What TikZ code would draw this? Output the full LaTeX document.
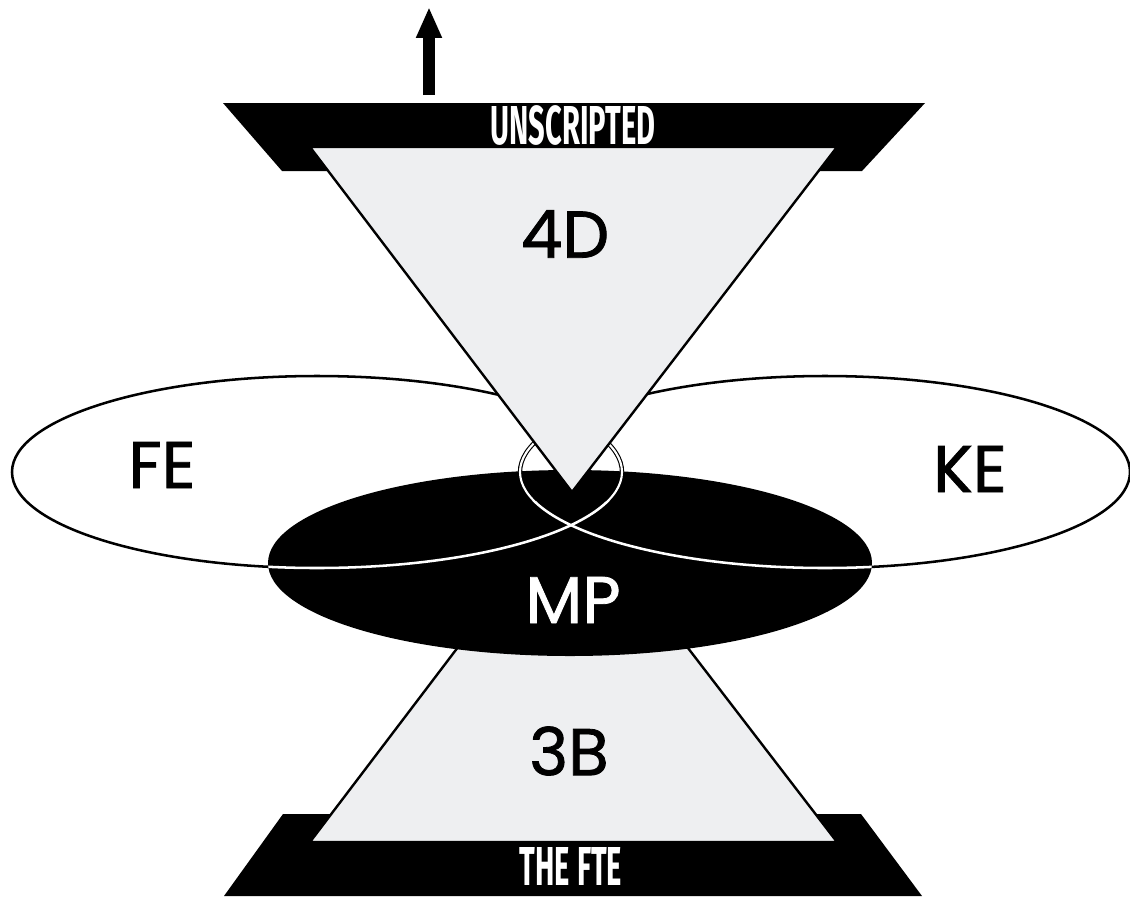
\documentclass[tikz,border=0pt]{standalone}
\usepackage{fontspec}
\usetikzlibrary{arrows.meta}
\newfontfamily\labelfont[FakeBold=1.2]{Poppins}
\newfontfamily\bandfont{Fira Sans}
\definecolor{trigray}{RGB}{238,239,241}
\begin{document}
\begin{tikzpicture}[x=.025cm, y=-.025cm, line join=miter]
	\tikzset{lbl/.style={font=\labelfont\fontsize{47}{47}\selectfont, inner sep=0pt},
		band/.style={font=\bandfont\bfseries\fontsize{39}{39}\selectfont, text=white, inner sep=0pt, xscale=.53},
		tri/.style={fill=trigray, draw=black, line width=1.7pt},
		rim/.style={line width=1.8pt}}
	\useasboundingbox (0,0) rectangle (1130,896);
	% black bands
	\fill (223,103) -- (925,103) -- (862,171) -- (282,171) -- cycle;
	\fill (283,814) -- (861,814) -- (922,896) -- (224,896) -- cycle;
	% lower triangle
	\draw[tri] (310,842) -- (837,842) -- (572,497) -- cycle;
	% side ellipses
	\foreach \c in {317,825}
		\draw[rim, fill=white] (\c,472) ellipse [x radius=305, y radius=96];
	\fill (570,563) ellipse [x radius=302, y radius=93];
	\begin{scope}
		\clip (570,563) ellipse [x radius=302, y radius=93];
		\foreach \c in {317,825}
			\draw[rim, white] (\c,472) ellipse [x radius=305, y radius=96];
	\end{scope}
	\begin{scope}
		\clip (505,430) rectangle (640,500);
		\foreach \c in {317,825}
			\draw[line width=.8pt, double=white, double distance=1.5pt] (\c,472) ellipse [x radius=305, y radius=96];
	\end{scope}
	% upper triangle
	\draw[tri] (310,147) -- (837,147) -- (572,492) -- cycle;
	\coordinate (arrowfoot) at (429,95);
	\coordinate (arrowtip) at (429,7);
	\draw[line width=8.5pt, -{Triangle[length=22pt, width=17pt]}] (arrowfoot) -- (arrowtip);
	\node[band] (unscripted) at (573,125) {UNSCRIPTED};
	\node[band] (fte) at (571,866) {THE FTE};
	\node[lbl] (fourd) at (565,234) {4D};
	\node[lbl, text=white] (mp) at (573,600) {MP};
	\node[lbl] (threeb) at (569,751) {3B};
	\node[lbl] (fe) at (162,465) {FE};
	\node[lbl] (ke) at (970,469) {KE};
\end{tikzpicture}
\end{document}
